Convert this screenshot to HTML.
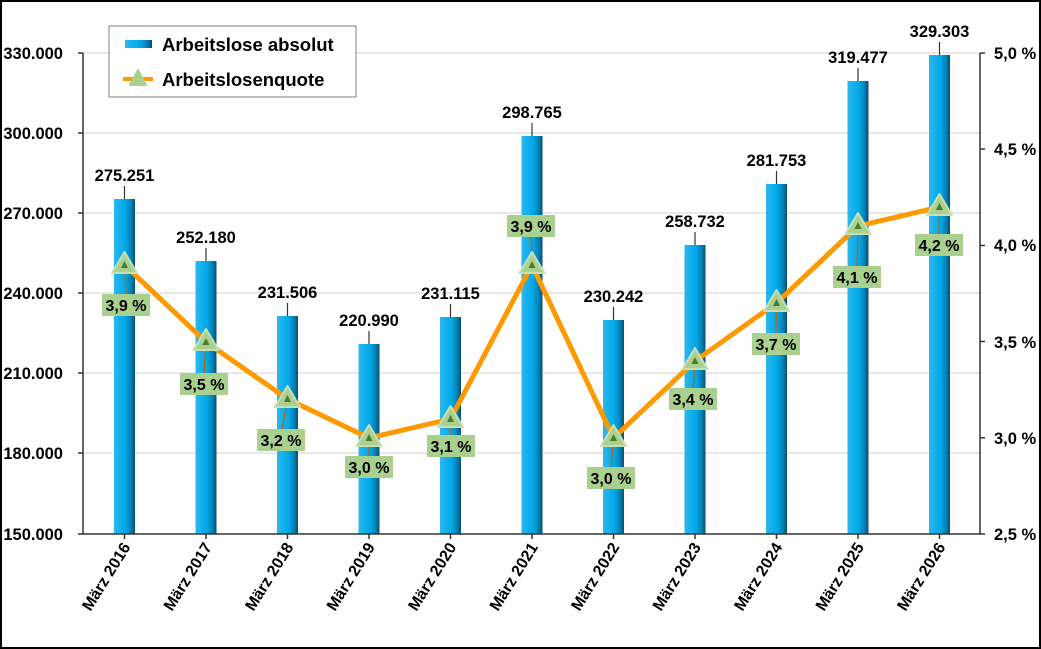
<!DOCTYPE html>
<html><head><meta charset="utf-8"><style>
html,body{margin:0;padding:0;background:#fff}
svg{display:block;font-family:"Liberation Sans",Arial,sans-serif;font-weight:bold}
</style></head><body>
<svg width="1041" height="649" viewBox="0 0 1041 649" xmlns="http://www.w3.org/2000/svg">
<defs>
<linearGradient id="bg" x1="0" x2="1" y1="0" y2="0">
<stop offset="0" stop-color="#2bb8ee"/><stop offset="0.55" stop-color="#00a8e8"/><stop offset="0.8" stop-color="#0582b5"/><stop offset="1" stop-color="#0b4f72"/>
</linearGradient>
</defs>
<rect x="1" y="1" width="1039" height="647" fill="#fff" stroke="#000" stroke-width="2"/>
<g stroke="#d9d9d9" stroke-width="1.3">
<line x1="83" x2="980" y1="53" y2="53"/><line x1="83" x2="980" y1="133" y2="133"/><line x1="83" x2="980" y1="213" y2="213"/><line x1="83" x2="980" y1="293" y2="293"/><line x1="83" x2="980" y1="373" y2="373"/><line x1="83" x2="980" y1="453" y2="453"/>
</g>
<g id="bars" fill="url(#bg)">
<rect x="114" y="199" width="21" height="335"/>
<rect x="195.5" y="261" width="21" height="273"/>
<rect x="277" y="316" width="21" height="218"/>
<rect x="358.5" y="344" width="21" height="190"/>
<rect x="440" y="317" width="21" height="217"/>
<rect x="521.5" y="136" width="21" height="398"/>
<rect x="603" y="320" width="21" height="214"/>
<rect x="684.5" y="245" width="21" height="289"/>
<rect x="766" y="184" width="21" height="350"/>
<rect x="847.5" y="81" width="21" height="453"/>
<rect x="929" y="55" width="21" height="479"/>
</g>
<g stroke="#333" stroke-width="1.2">
<line x1="124.5" x2="124.5" y1="186" y2="199"/><line x1="206" x2="206" y1="248" y2="261"/><line x1="287.5" x2="287.5" y1="303" y2="316"/><line x1="369" x2="369" y1="331" y2="344"/><line x1="450.5" x2="450.5" y1="304" y2="317"/><line x1="532" x2="532" y1="123" y2="136"/><line x1="613.5" x2="613.5" y1="307" y2="320"/><line x1="695" x2="695" y1="232" y2="245"/><line x1="776.5" x2="776.5" y1="171" y2="184"/><line x1="858" x2="858" y1="68" y2="81"/><line x1="939.5" x2="939.5" y1="42" y2="55"/>
</g>
<g font-size="16.5" text-anchor="middle" fill="#000">
<text x="124.5" y="181">275.251</text><text x="206" y="243">252.180</text><text x="287.5" y="298">231.506</text><text x="369" y="326">220.990</text><text x="450.5" y="299">231.115</text><text x="532" y="118">298.765</text><text x="613.5" y="302">230.242</text><text x="695" y="227">258.732</text><text x="776.5" y="166">281.753</text><text x="858" y="63">319.477</text><text x="939.5" y="37">329.303</text>
</g>
<g stroke="#333" stroke-width="1.5" fill="none">
<line x1="83" x2="83" y1="53" y2="534"/><line x1="83" x2="980" y1="534" y2="534"/><line x1="980" x2="980" y1="53" y2="534"/>
<line x1="78" x2="83" y1="53" y2="53"/><line x1="78" x2="83" y1="133" y2="133"/><line x1="78" x2="83" y1="213" y2="213"/><line x1="78" x2="83" y1="293" y2="293"/><line x1="78" x2="83" y1="373" y2="373"/><line x1="78" x2="83" y1="453" y2="453"/><line x1="78" x2="83" y1="534" y2="534"/>
<line x1="980" x2="985" y1="53" y2="53"/><line x1="980" x2="985" y1="149" y2="149"/><line x1="980" x2="985" y1="245.5" y2="245.5"/><line x1="980" x2="985" y1="341.5" y2="341.5"/><line x1="980" x2="985" y1="437.8" y2="437.8"/><line x1="980" x2="985" y1="534" y2="534"/>
<line x1="124.5" x2="124.5" y1="534" y2="539"/><line x1="206" x2="206" y1="534" y2="539"/><line x1="287.5" x2="287.5" y1="534" y2="539"/><line x1="369" x2="369" y1="534" y2="539"/><line x1="450.5" x2="450.5" y1="534" y2="539"/><line x1="532" x2="532" y1="534" y2="539"/><line x1="613.5" x2="613.5" y1="534" y2="539"/><line x1="695" x2="695" y1="534" y2="539"/><line x1="776.5" x2="776.5" y1="534" y2="539"/><line x1="858" x2="858" y1="534" y2="539"/><line x1="939.5" x2="939.5" y1="534" y2="539"/>
</g>
<g font-size="16.5" text-anchor="end">
<text x="63" y="59">330.000</text><text x="63" y="139">300.000</text><text x="63" y="219">270.000</text><text x="63" y="299">240.000</text><text x="63" y="379">210.000</text><text x="63" y="459">180.000</text><text x="63" y="540">150.000</text>
</g>
<g font-size="16.5">
<text x="994" y="59">5,0 %</text><text x="994" y="155">4,5 %</text><text x="994" y="251">4,0 %</text><text x="994" y="348">3,5 %</text><text x="994" y="444">3,0 %</text><text x="994" y="540">2,5 %</text>
</g>
<g font-size="16" text-anchor="end">
<text transform="translate(131,547) rotate(-58)">März 2016</text>
<text transform="translate(212.5,547) rotate(-58)">März 2017</text>
<text transform="translate(294,547) rotate(-58)">März 2018</text>
<text transform="translate(375.5,547) rotate(-58)">März 2019</text>
<text transform="translate(457,547) rotate(-58)">März 2020</text>
<text transform="translate(538.5,547) rotate(-58)">März 2021</text>
<text transform="translate(620,547) rotate(-58)">März 2022</text>
<text transform="translate(701.5,547) rotate(-58)">März 2023</text>
<text transform="translate(783,547) rotate(-58)">März 2024</text>
<text transform="translate(864.5,547) rotate(-58)">März 2025</text>
<text transform="translate(946,547) rotate(-58)">März 2026</text>
</g>
<polyline fill="none" stroke="#ff9900" stroke-width="5" stroke-linejoin="round" points="124.5,265 206,342 287.5,399 369,438 450.5,419 532,265 613.5,438 695,361 776.5,303 858,226 939.5,207"/>
<g stroke="#c0600a" stroke-width="1.3">
<line x1="124.5" y1="265" x2="126" y2="294"/><line x1="206" y1="342" x2="204" y2="373"/><line x1="287.5" y1="399" x2="282" y2="429"/><line x1="369" y1="438" x2="369" y2="456"/><line x1="450.5" y1="419" x2="451" y2="435"/><line x1="532" y1="265" x2="531" y2="236"/><line x1="613.5" y1="438" x2="611" y2="467"/><line x1="695" y1="361" x2="693" y2="388"/><line x1="776.5" y1="303" x2="776" y2="333"/><line x1="858" y1="226" x2="857" y2="266"/><line x1="939.5" y1="207" x2="939" y2="234"/>
</g>
<g fill="#a9d08e" stroke="#c5e0b4" stroke-width="2" stroke-linejoin="round">
<polygon points="124.5,252 112,273 137,273"/><polygon points="206,329 193.5,350 218.5,350"/><polygon points="287.5,386 275,407 300,407"/><polygon points="369,425 356.5,446 381.5,446"/><polygon points="450.5,406 438,427 463,427"/><polygon points="532,252 519.5,273 544.5,273"/><polygon points="613.5,425 601,446 626,446"/><polygon points="695,348 682.5,369 707.5,369"/><polygon points="776.5,290 764,311 789,311"/><polygon points="858,213 845.5,234 870.5,234"/><polygon points="939.5,194 927,215 952,215"/>
</g>
<g fill="#4a7a2a">
<polygon points="124.5,261 121,268 128,268"/><polygon points="206,338 202.5,345 209.5,345"/><polygon points="287.5,395 284,402 291,402"/><polygon points="369,434 365.5,441 372.5,441"/><polygon points="450.5,415 447,422 454,422"/><polygon points="532,261 528.5,268 535.5,268"/><polygon points="613.5,434 610,441 617,441"/><polygon points="695,357 691.5,364 698.5,364"/><polygon points="776.5,299 773,306 780,306"/><polygon points="858,222 854.5,229 861.5,229"/><polygon points="939.5,203 936,210 943,210"/>
</g>
<g fill="#a9d08e">
<rect x="102" y="294" width="48" height="22"/><rect x="180" y="373" width="48" height="22"/><rect x="257" y="429" width="48" height="22"/><rect x="345" y="456" width="48" height="22"/><rect x="427" y="435" width="48" height="22"/><rect x="507" y="215" width="48" height="22"/><rect x="587" y="467" width="48" height="22"/><rect x="669" y="388" width="48" height="22"/><rect x="752" y="333" width="48" height="22"/><rect x="833" y="266" width="48" height="22"/><rect x="915" y="234" width="48" height="22"/>
</g>
<g font-size="16" text-anchor="middle">
<text x="126" y="311">3,9 %</text><text x="204" y="390">3,5 %</text><text x="281" y="446">3,2 %</text><text x="369" y="473">3,0 %</text><text x="451" y="452">3,1 %</text><text x="531" y="232">3,9 %</text><text x="611" y="484">3,0 %</text><text x="693" y="405">3,4 %</text><text x="776" y="350">3,7 %</text><text x="857" y="283">4,1 %</text><text x="939" y="251">4,2 %</text>
</g>
<rect x="109" y="26" width="247" height="71" fill="#fff" stroke="#808080" stroke-width="1"/>
<rect x="125" y="40" width="27" height="8" fill="url(#bg)"/>
<text x="162" y="51" font-size="18.5">Arbeitslose absolut</text>
<line x1="123" x2="153" y1="79" y2="79" stroke="#ff9900" stroke-width="4"/>
<polygon points="138,70 130,85 146,85" fill="#a9d08e" stroke="#a9d08e" stroke-width="2" stroke-linejoin="round"/>
<text x="162" y="86" font-size="18.5">Arbeitslosenquote</text>
</svg>
</body></html>
